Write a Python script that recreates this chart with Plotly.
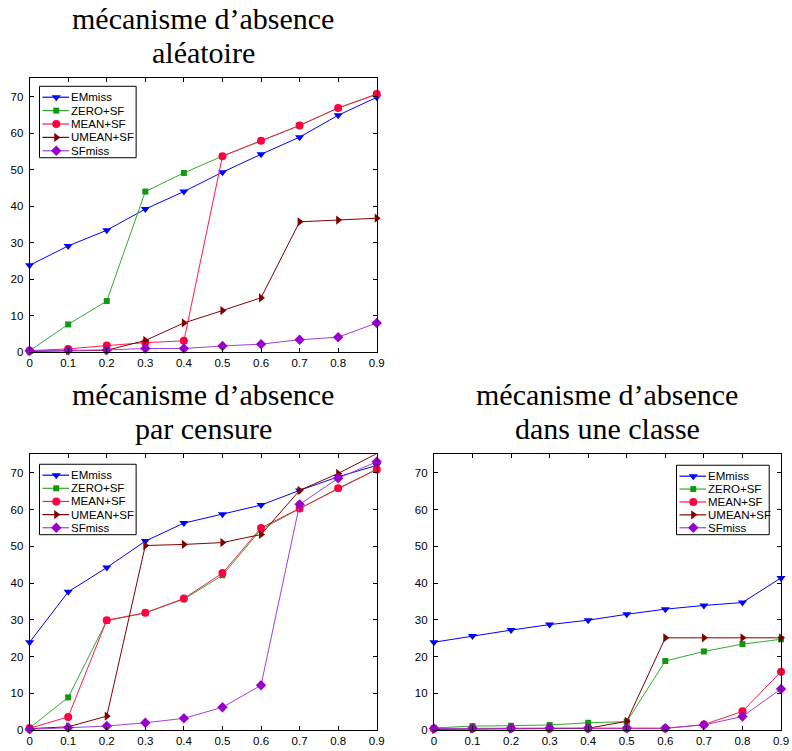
import plotly.graph_objects as go

# ---------------- data ----------------
x_vals = [0, 0.1, 0.2, 0.3, 0.4, 0.5, 0.6, 0.7, 0.8, 0.9]
x_labels = ["0", "0.1", "0.2", "0.3", "0.4", "0.5", "0.6", "0.7", "0.8", "0.9"]
y_ticks = [0, 10, 20, 30, 40, 50, 60, 70]
series_names = ["EMmiss", "ZERO+SF", "MEAN+SF", "UMEAN+SF", "SFmiss"]

# mécanisme d'absence aléatoire
alea_emmiss = [23.8, 29.1, 33.4, 39.2, 44.0, 49.3, 54.2, 58.9, 64.9, 69.8]
alea_zero = [0.4, 7.6, 14.0, 44.0, 49.1, 53.7, 57.9, 62.1, 66.9, 70.6]
alea_mean = [0.4, 0.9, 1.8, 2.6, 3.1, 53.7, 57.9, 62.1, 66.9, 70.7]
alea_umean = [0.2, 0.4, 0.5, 3.2, 8.0, 11.4, 14.9, 35.7, 36.2, 36.7]
alea_sfmiss = [0.4, 0.5, 0.6, 1.0, 1.0, 1.7, 2.2, 3.4, 4.1, 8.0]

# mécanisme d'absence par censure
cens_emmiss = [23.9, 37.6, 44.2, 51.4, 56.3, 58.7, 61.2, 65.2, 68.9, 72.0]
cens_zero = [0.6, 8.9, 29.7, 31.9, 35.6, 42.1, 54.6, 60.3, 65.8, 70.9]
cens_mean = [0.5, 3.6, 29.9, 31.9, 35.8, 42.7, 55.0, 60.3, 65.8, 70.9]
cens_umean = [0.4, 0.9, 3.8, 50.2, 50.5, 51.0, 53.2, 65.2, 69.8, 75.2]
cens_sfmiss = [0.2, 0.7, 1.1, 2.0, 3.2, 6.2, 12.2, 61.4, 68.5, 73.0]

# mécanisme d'absence dans une classe
classe_emmiss = [23.9, 25.6, 27.2, 28.7, 29.9, 31.5, 32.9, 33.9, 34.7, 41.4]
classe_zero = [0.6, 1.1, 1.2, 1.4, 2.0, 2.3, 18.8, 21.4, 23.4, 24.7]
classe_mean = [0.4, 0.45, 0.45, 0.45, 0.45, 0.45, 0.45, 1.5, 5.1, 15.9]
classe_umean = [0.2, 0.3, 0.35, 0.4, 0.5, 2.4, 25.1, 25.1, 25.1, 25.1]
classe_sfmiss = [0.45, 0.55, 0.55, 0.55, 0.55, 0.55, 0.55, 1.4, 3.7, 11.2]

titles = [
    ["mécanisme d\u2019absence", "aléatoire"],
    ["mécanisme d\u2019absence", "par censure"],
    ["mécanisme d\u2019absence", "dans une classe"],
]

# ---------------- styles ----------------
W, H = 792, 751
line_colors = ["#0000ff", "#33aa33", "#ff1a50", "#800000", "#a040d8"]
marker_colors = ["#0000ff", "#109910", "#ff0040", "#800000", "#9900cc"]
symbols = ["triangle-down", "square", "circle", "triangle-right", "diamond"]
msizes = [8, 6, 8, 8, 8]

panels = [
    dict(series=[alea_emmiss, alea_zero, alea_mean, alea_umean, alea_sfmiss],
         xa="x", ya="y", px=(27, 379), py=(79, 355),
         legend_box=(37, 87, 135, 159)),
    dict(series=[cens_emmiss, cens_zero, cens_mean, cens_umean, cens_sfmiss],
         xa="x2", ya="y2", px=(27, 379), py=(458, 736),
         legend_box=(37, 468, 135, 539)),
    dict(series=[classe_emmiss, classe_zero, classe_mean, classe_umean, classe_sfmiss],
         xa="x3", ya="y3", px=(437, 789), py=(458, 736),
         legend_box=(683, 469, 777, 539)),
]

fig = go.Figure()
tick_font = dict(family="Liberation Sans, Arial, sans-serif", size=11.5, color="black")

for p in panels:
    for k, (name, vals) in enumerate(zip(series_names, p["series"])):
        fig.add_trace(go.Scatter(
            x=x_vals, y=vals, name=name, mode="lines+markers",
            xaxis=p["xa"], yaxis=p["ya"], showlegend=False, cliponaxis=False,
            line=dict(color=line_colors[k], width=1),
            marker=dict(symbol=symbols[k], size=msizes[k], color=marker_colors[k],
                        line=dict(width=0)),
        ))

axis_common = dict(
    showline=True, linecolor="black", linewidth=1, mirror="ticks",
    ticks="inside", ticklen=4, tickcolor="black", tickwidth=1,
    showgrid=False, zeroline=False, tickfont=tick_font, fixedrange=True,
    ticklabeloverflow="allow",
)

layout = dict(
    width=W, height=H, margin=dict(l=0, r=0, t=0, b=0, pad=0),
    paper_bgcolor="white", plot_bgcolor="rgba(0,0,0,0)", showlegend=False,
)

for i, p in enumerate(panels):
    suffix = "" if i == 0 else str(i + 1)
    layout["xaxis" + suffix] = dict(
        axis_common, domain=[p["px"][0] / W, p["px"][1] / W], range=[0, 0.9],
        tickvals=x_vals, ticktext=x_labels, anchor="y" + suffix, ticklabelstandoff=0,
    )
    layout["yaxis" + suffix] = dict(
        axis_common, domain=[1 - p["py"][1] / H, 1 - p["py"][0] / H], range=[0, 75],
        tickvals=y_ticks, anchor="x" + suffix, ticklabelstandoff=3,
    )

# overlay axis in pixel units for the legend boxes
layout["xaxis4"] = dict(domain=[0, 1], range=[0, W], visible=False, fixedrange=True)
layout["yaxis4"] = dict(domain=[0, 1], range=[H, 0], visible=False, fixedrange=True, anchor="x4")

fig.update_layout(**layout)

shapes = []
annotations = []
for p in panels:
    x0, y0, x1, y1 = p["legend_box"]
    shapes.append(dict(type="rect", xref="x4", yref="y4", x0=x0, y0=y0, x1=x1, y1=y1,
                       line=dict(color="black", width=1), fillcolor="white", layer="below"))
    step = (y1 - y0 - 18) / 4
    for k, name in enumerate(series_names):
        yc = y0 + 11 + k * step
        fig.add_trace(go.Scatter(
            x=[x0 + 3, x0 + 30], y=[yc, yc], mode="lines", xaxis="x4", yaxis="y4",
            showlegend=False, hoverinfo="skip",
            line=dict(color=line_colors[k], width=1.2),
        ))
        fig.add_trace(go.Scatter(
            x=[x0 + 17], y=[yc], mode="markers", xaxis="x4", yaxis="y4",
            showlegend=False, hoverinfo="skip",
            marker=dict(symbol=symbols[k], size=msizes[k], color=marker_colors[k], line=dict(width=0)),
        ))
        annotations.append(dict(xref="x4", yref="y4", x=x0 + 30, y=yc, text=name,
                                showarrow=False, xanchor="left", yanchor="middle",
                                font=dict(family="Liberation Sans, Arial, sans-serif", size=11.5, color="black")))

title_font = dict(family="Liberation Serif, Times New Roman, serif", size=30, color="black")
for p, t in zip(panels, titles):
    cx = (p["px"][0] + p["px"][1]) / 2
    top = p["py"][0]
    for j, line in enumerate(t):
        yc = top - 60 + j * 34
        annotations.append(dict(xref="paper", yref="paper", x=cx / W, y=1 - yc / H, text=line,
                                showarrow=False, xanchor="center", yanchor="middle", font=title_font))

fig.update_layout(shapes=shapes, annotations=annotations)
# remove the default page margin synchronously (right after the plot call)
page_fix = "}); document.body.style.margin='0'; document.body.style.overflow='hidden'; (function(){"
fig.write_html("out.html", config={"displayModeBar": False}, post_script=page_fix)
